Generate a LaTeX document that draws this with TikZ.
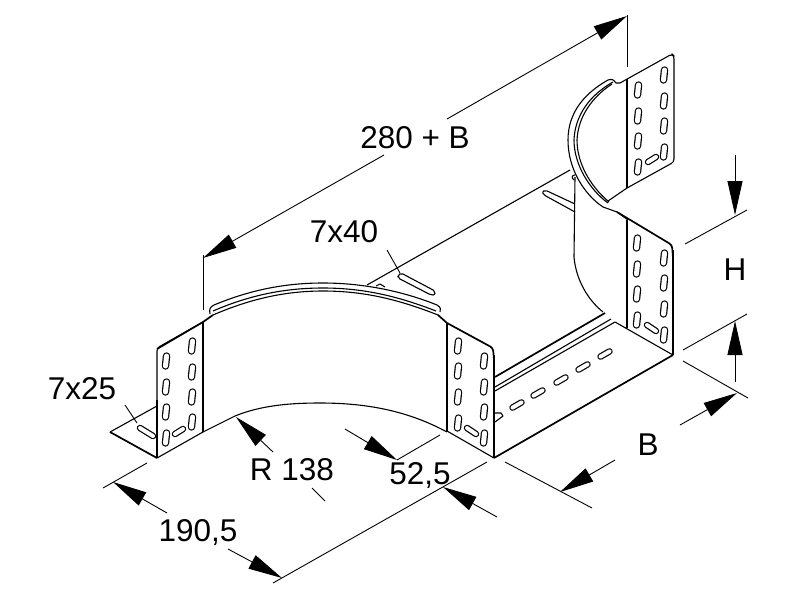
\documentclass[tikz,border=0pt]{standalone}
\usepackage{fontspec}
\setmainfont{Liberation Sans}
\usetikzlibrary{arrows.meta}
\tikzset{
  sheet/.style={line width=1.1pt,black,line join=round},
  heavy/.style={line width=1.7pt,black,line join=round},
  dimline/.style={line width=0.9pt,black},
  dimarrow/.style={line width=0.9pt,black,-{Triangle[length=34pt,width=15pt]}},
  slothole/.style={line width=1.2pt,black,double=white,double distance=5pt,line cap=round},
  slanthole/.style={line width=1.2pt,black,double=white,double distance=4pt,line cap=round},
  dimtext/.style={font=\fontsize{31.5}{31.5}\selectfont,inner sep=0pt,text depth=0pt,anchor=base}
}
\newcommand{\vhole}[2]{\draw[slothole] (#1-0.5,#2+5) -- (#1+0.5,#2-5);}
\begin{document}
\begin{tikzpicture}[x=1pt,y=-1pt]
\useasboundingbox (0,0) rectangle (800,600);
\fill[white] (0,0) rectangle (800,600);

% left tab
\draw[sheet] (157,406) -- (110,432);
\draw[heavy] (110,432) -- (157,458);
\draw[slanthole] (140,428) -- (153,436);

% left panel
\draw[sheet,rounded corners=3pt] (157,458) -- (157,348) -- (203,322);
\draw[heavy] (157,349) -- (203,322) -- (213,315);
\draw[sheet] (203,322) -- (203,432);
\draw[heavy] (157,458) -- (157,400);
\draw[sheet] (157,458) -- (203,432);
\foreach \y in {361,387,412,438} {\vhole{166}{\y}}
\foreach \y in {346,372,397,422} {\vhole{192}{\y}}
\draw[slanthole] (175,434) -- (183,429);

% arc under the wall
\draw[sheet] (203,432) -- (235,416) .. controls (262,405) and (292,403) .. (320,403)
  .. controls (370,403) and (410,412) .. (447,432);

% curved top rail of the inner bend
\draw[sheet] (210,314) .. controls (209,309) and (210,307) .. (214,305)
  .. controls (250,290) and (285,283) .. (323,283)
  .. controls (365,283) and (405,292) .. (437,305)
  .. controls (441,307) and (441,310) .. (440,312);
\draw[sheet] (213,311) .. controls (250,295) and (285,288) .. (323,288)
  .. controls (365,288) and (400,297) .. (436,311);
\draw[sheet] (213,315) .. controls (250,299) and (285,291) .. (323,291)
  .. controls (365,291) and (400,300) .. (438,315);

% front panel
\draw[heavy] (438,315) -- (447,323);
\draw[heavy,rounded corners=3pt] (447,323) -- (493,348) -- (494,360);
\draw[sheet] (447,323) -- (447,431);
\draw[heavy] (494,355) -- (494,458);
\draw[sheet] (447,431) -- (494,458);
\foreach \y in {346,371,397,423} {\vhole{458}{\y}}
\foreach \y in {361,387,412,438} {\vhole{484}{\y}}
\draw[slanthole] (467,428) -- (476,434);

% base channel
\draw[heavy] (495,377) -- (605,313);
\draw[sheet] (495,387) -- (611,319);
\draw[sheet] (495,391) -- (615,322);
\draw[heavy] (494,458) -- (673,355);
\draw[sheet] (615,322) -- (673,355);
\draw[sheet] (495,413) -- (501,413) -- (503,416) -- (495,422);
\foreach \x/\y in {517/405,538/393,561/380,583/367,605/354}
  {\draw[slanthole] (\x-4.5,\y+2.6) -- (\x+4.5,\y-2.6);}

% right-side panel
\draw[heavy,rounded corners=3pt] (617,212) -- (672,245) -- (673,258);
\draw[sheet] (627,220) -- (627,328);
\draw[sheet] (673,250) -- (673,355);
\foreach \y in {243,269,294,320} {\vhole{637}{\y}}
\foreach \y in {258,283,309,335} {\vhole{664}{\y}}
\draw[slanthole] (647,325) -- (656,331);

% right wall outline
\draw[sheet] (575,177) -- (574,257) .. controls (576,280) and (588,300) .. (603,312);

% back panel
\draw[sheet,rounded corners=3pt] (620,83) -- (672,54) -- (674,56) -- (674,162) -- (627,188);
\draw[sheet] (627,79) -- (627,188);
\draw[sheet] (608,201) -- (627,188);
\foreach \y in {90,116,141,167} {\vhole{638}{\y}}
\foreach \y in {75,101,126,152} {\vhole{664}{\y}}
\draw[slanthole] (648,162) -- (656,157);

% curved rail of the outer bend
\draw[sheet] (620,83) -- (616,83) .. controls (613,79) and (612,79) .. (608,80)
  .. controls (585,93) and (568,112) .. (568,140)
  .. controls (568,170) and (585,195) .. (603,207) -- (617,212);
\draw[sheet] (613,82) .. controls (590,95) and (575,115) .. (574,140)
  .. controls (574,165) and (590,190) .. (608,203);
\draw[sheet] (612,84) .. controls (592,97) and (578,117) .. (577,140)
  .. controls (577,163) and (590,186) .. (609,202);
\draw[sheet] (617,212) -- (628,220);

% long back edge and floor slots
\draw[sheet] (367,285) -- (570,170);
\draw[sheet] (376,286) -- (380,284) -- (385,287);
\draw[sheet] (574,180) .. controls (571,178) and (572,175) .. (575,175);
\draw[sheet,rounded corners=2pt] (575,204) -- (545,190) -- (542,192) -- (544,195) -- (575,212);
\draw[sheet,rounded corners=2pt] (398,275) -- (401,273) -- (435,291) -- (435,295) -- (431,295) -- (398,278) -- cycle;

% dimension 280 + B
\coordinate (tl) at (203,258);
\coordinate (tr) at (627,16);
\coordinate (gapL) at (384,155);
\coordinate (gapR) at (447,119);
\draw[dimline] (203,255) -- (203,310);
\draw[dimline] (627,15) -- (627,67);
\draw[dimarrow] (gapL) -- (tl);
\draw[dimarrow] (gapR) -- (tr);
\node[dimtext] (t280) at (415,148) {280 + B};

% dimension H
\draw[dimline] (685,244) -- (747,210);
\draw[dimline] (683,350) -- (747,314);
\coordinate (hA) at (735,155);
\coordinate (hB) at (735,215);
\coordinate (hC) at (735,382);
\coordinate (hD) at (735,321);
\draw[dimarrow] (hA) -- (hB);
\draw[dimarrow] (hC) -- (hD);
\node[dimtext] (th) at (735,280) {H};

% dimension B
\draw[dimline] (683,361) -- (748,398);
\draw[dimline] (505,462) -- (592,508);
\coordinate (bA) at (680,425);
\coordinate (bB) at (737,393);
\coordinate (bC) at (615,460);
\coordinate (bD) at (560,492);
\draw[dimarrow] (bA) -- (bB);
\draw[dimarrow] (bC) -- (bD);
\node[dimtext] (tb) at (648,455) {B};

% dimension 190,5
\draw[dimline] (147,463) -- (103,488);
\draw[dimline] (487,462) -- (273,583);
\coordinate (wA) at (167,513);
\coordinate (wB) at (113,482);
\coordinate (wC) at (228,549);
\coordinate (wD) at (282,578);
\draw[dimarrow] (wA) -- (wB);
\draw[dimarrow] (wC) -- (wD);
\node[dimtext] (t190) at (198,541) {190,5};

% dimension R 138
\coordinate (rA) at (273,452);
\coordinate (rB) at (236,417);
\draw[dimarrow] (rA) -- (rB);
\draw[dimline] (312,488) -- (325,501);
\node[dimtext] (tr138) at (292,480) {R 138};

% dimension 52,5
\draw[dimline] (397,460) -- (440,435);
\coordinate (sA) at (345,429);
\coordinate (sB) at (397,460);
\coordinate (sC) at (497,517);
\coordinate (sD) at (443,487);
\draw[dimarrow] (sA) -- (sB);
\draw[dimarrow] (sC) -- (sD);
\node[dimtext] (t52) at (420,484) {52,5};

% slot callouts
\draw[dimline] (387,250) -- (400,273);
\node[dimtext] (t740) at (344,242) {7x40};
\draw[dimline] (125,405) -- (137,423);
\node[dimtext] (t725) at (82,399) {7x25};
\end{tikzpicture}
\end{document}
